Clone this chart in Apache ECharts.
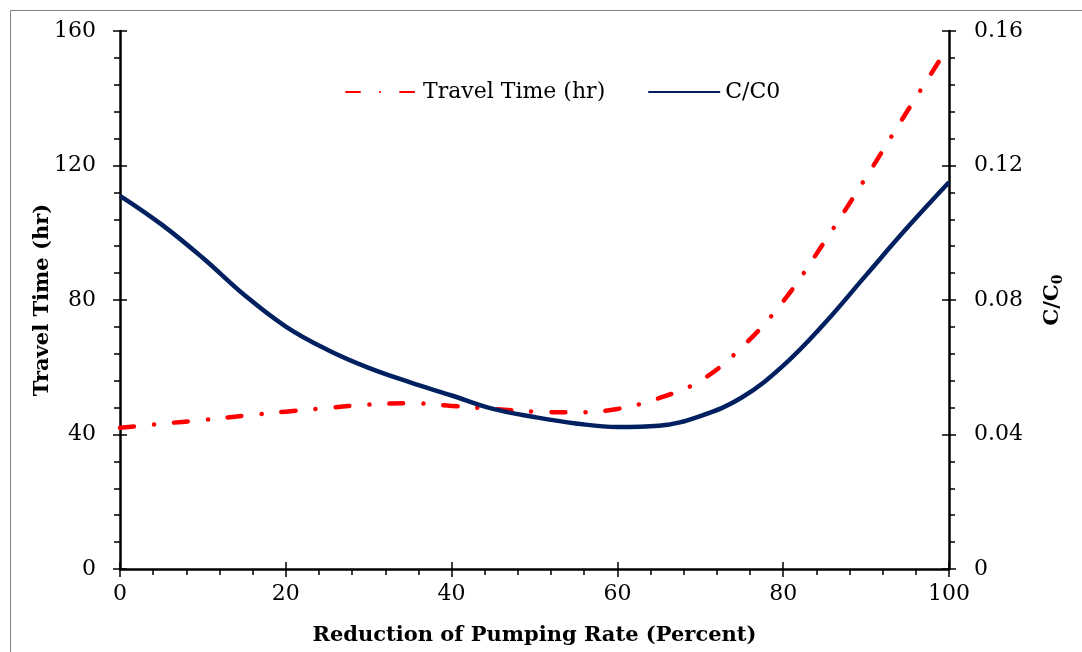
<!DOCTYPE html>
<html>
<head>
<meta charset="utf-8">
<script src="https://cdn.jsdelivr.net/npm/echarts@6/dist/echarts.min.js"></script>
<style>
  html, body { margin: 0; padding: 0; background: #fff; }
  #chart { width: 1082px; height: 652px; }
</style>
</head>
<body>
<div id="chart"></div>
<script>
// values
const reduction = [0, 5, 10, 15, 20, 25, 30, 35, 40, 45, 50, 55, 60, 65, 70, 75, 80, 85, 90, 95, 100]
const travelTime = [42, 43.2, 44.3, 45.6, 46.8, 47.9, 48.9, 49.3, 48.5, 47.6, 46.8, 46.6, 47.6, 50.8, 56, 65.9, 79.6, 97.4, 116.5, 136.3, 155.6]
const cRatio = [0.111, 0.1025, 0.0925, 0.0815, 0.0721, 0.0652, 0.0598, 0.0555, 0.0516, 0.0476, 0.0452, 0.0433, 0.0422, 0.0426, 0.0455, 0.051, 0.0605, 0.0731, 0.0874, 0.1016, 0.115]
const leftTicks = { min: 0, max: 160, interval: 40 }
const rightTicks = { min: 0, max: 0.16, interval: 0.04 }
const xTicks = { min: 0, max: 100, interval: 20 }

const serif = 'DejaVu Serif'
const axisCol = '#000'

const chart = echarts.init(document.getElementById('chart'))

// extra axes only draw the inner half of the major ticks so they cross the axis line
const overlay = (extra) => Object.assign({
  axisLine: { show: false, onZero: false },
  axisTick: { show: true, inside: true, length: 7, lineStyle: { color: axisCol, width: 1.5 } },
  axisLabel: { show: false },
  splitLine: { show: false },
}, extra)

const titleStyle = { fontFamily: serif, fontWeight: 'bold', fontSize: 21, color: '#000' }

chart.setOption({
  animation: false,
  backgroundColor: '#fff',
  graphic: [{
    type: 'rect', shape: { x: 10.5, y: 10.5, width: 1100, height: 700 },
    style: { fill: 'none', stroke: '#808080', lineWidth: 1 }, silent: true,
  }],
  grid: { left: 120, right: 133, top: 31, bottom: 83 },
  legend: {
    left: 340, top: 76, itemWidth: 72, itemHeight: 10, itemGap: 42,
    itemStyle: { opacity: 0 },
    textStyle: { fontFamily: serif, fontSize: 22, color: '#000' },
    data: ['Travel Time (hr)', 'C/C0'],
  },
  xAxis: [
    {
      type: 'value', position: 'bottom', ...xTicks,
      name: 'Reduction of Pumping Rate (Percent)', nameLocation: 'middle', nameGap: 56, nameMoveOverlap: false,
      nameTextStyle: titleStyle,
      axisLine: { onZero: false, lineStyle: { color: axisCol, width: 2.5 } },
      axisTick: { length: 8, lineStyle: { color: axisCol, width: 1.5 } },
      minorTick: { show: true, splitNumber: 5, length: 6, lineStyle: { color: axisCol, width: 1.5 } },
      axisLabel: { fontFamily: serif, fontSize: 22, color: '#000', margin: 14 },
      splitLine: { show: false },
    },
    overlay({ type: 'value', position: 'bottom', ...xTicks }),
  ],
  yAxis: [
    {
      type: 'value', position: 'left', ...leftTicks,
      name: 'Travel Time (hr)', nameLocation: 'middle', nameGap: 67, nameRotate: 90, nameMoveOverlap: false,
      nameTextStyle: titleStyle,
      axisLine: { show: true, onZero: false, lineStyle: { color: axisCol, width: 2.5 } },
      axisTick: { show: true, length: 7, lineStyle: { color: axisCol, width: 1.5 } },
      minorTick: { show: true, splitNumber: 5, length: 6, lineStyle: { color: axisCol, width: 1.5 } },
      axisLabel: { fontFamily: serif, fontSize: 22, color: '#000', margin: 24 },
      splitLine: { show: false },
    },
    {
      type: 'value', position: 'right', ...rightTicks,
      name: '{n|C/C}{s|0}', nameLocation: 'middle', nameGap: 92, nameRotate: 90, nameMoveOverlap: false,
      nameTextStyle: Object.assign({}, titleStyle, {
        rich: {
          n: titleStyle,
          s: { fontFamily: serif, fontWeight: 'bold', fontSize: 14, color: '#000', padding: [10, 0, 0, 0] },
        },
      }),
      axisLine: { show: true, onZero: false, lineStyle: { color: axisCol, width: 2.5 } },
      axisTick: { show: true, length: 7, lineStyle: { color: axisCol, width: 1.5 } },
      minorTick: { show: true, splitNumber: 5, length: 6, lineStyle: { color: axisCol, width: 1.5 } },
      axisLabel: { fontFamily: serif, fontSize: 22, color: '#000', margin: 25 },
      splitLine: { show: false },
    },
    overlay({ type: 'value', position: 'left', ...leftTicks }),
    overlay({ type: 'value', position: 'right', ...rightTicks }),
  ],
  series: [
    {
      name: 'Travel Time (hr)', type: 'line', xAxisIndex: 0, yAxisIndex: 0,
      data: reduction.map((x, i) => [x, travelTime[i]]),
      smooth: 0.4, symbol: 'none',
      lineStyle: { color: '#ff0000', width: 4.5, type: [14, 20, 0.1, 20], cap: 'round' },
      itemStyle: { color: '#ff0000' },
    },
    {
      name: 'C/C0', type: 'line', xAxisIndex: 0, yAxisIndex: 1,
      data: reduction.map((x, i) => [x, cRatio[i]]),
      smooth: 0.4, symbol: 'none',
      lineStyle: { color: '#002060', width: 4.5 },
      itemStyle: { color: '#002060' },
    },
  ],
})
</script>
</body>
</html>
